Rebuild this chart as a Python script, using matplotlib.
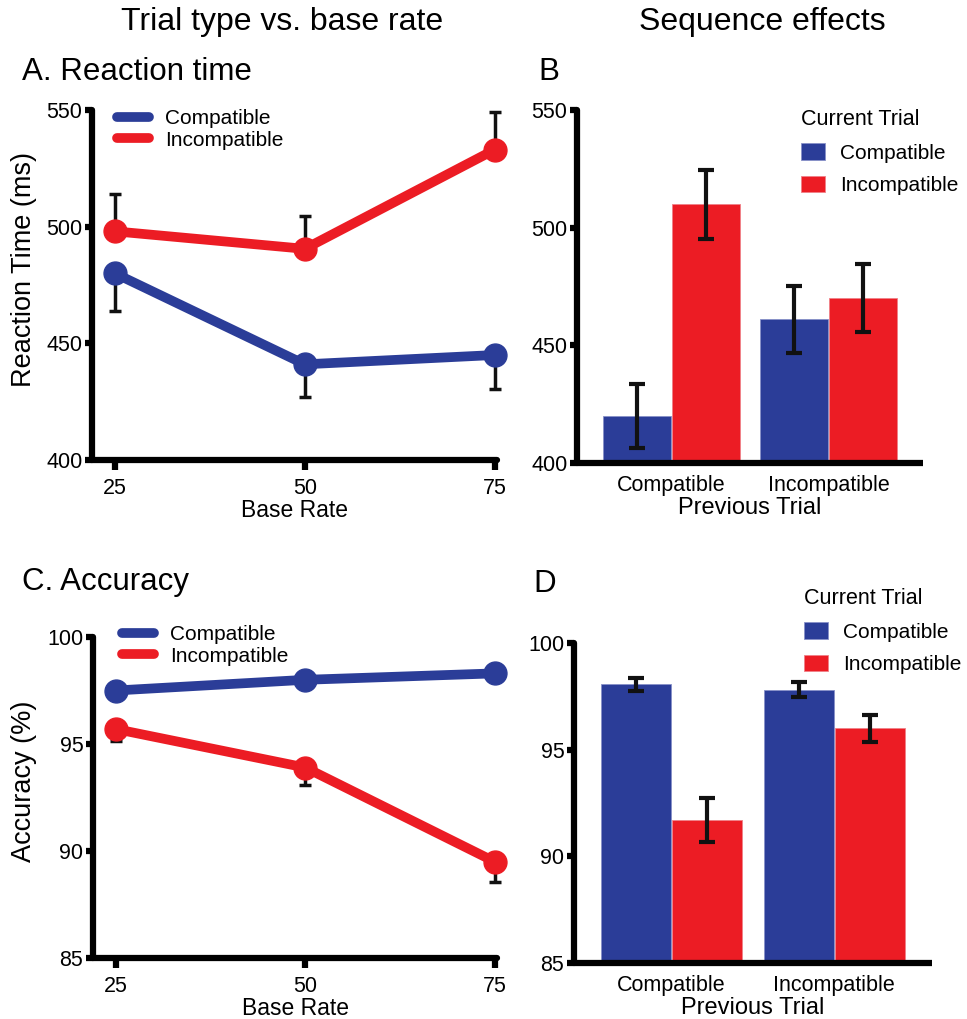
import matplotlib.pyplot as plt
import numpy as np

plt.rcParams['font.family'] = ['Liberation Sans', 'DejaVu Sans']

# data
base_rate = [25, 50, 75]
rt_comp = [480, 441, 445]
rt_comp_err = [16, 14, 14.5]
rt_incomp = [498, 490.5, 533]
rt_incomp_err = [16, 14, 16]

acc_comp = [97.5, 98.0, 98.3]
acc_comp_err = [0.1, 0.1, 0.1]
acc_incomp = [95.7, 93.9, 89.5]
acc_incomp_err = [0.55, 0.83, 0.97]

prev_trial = ['Compatible', 'Incompatible']
seq_rt_comp = [420, 461]
seq_rt_comp_err = [13.6, 14.4]
seq_rt_incomp = [510, 470]
seq_rt_incomp_err = [14.7, 14.4]

seq_acc_comp = [98.07, 97.82]
seq_acc_comp_err = [0.3, 0.33]
seq_acc_incomp = [91.7, 96.0]
seq_acc_incomp_err = [1.03, 0.64]

blue = '#2b3d98'
red = '#ec1c24'

fig = plt.figure(figsize=(9.67, 10.19), dpi=100)
W, H = 967, 1019


def add_ax(left, top, right, bottom):
    return fig.add_axes([left / W, 1 - bottom / H, (right - left) / W, (bottom - top) / H])


def fig_pt(x, y):
    return (x / W, 1 - y / H)


def style(ax):
    for s in ['top', 'right']:
        ax.spines[s].set_visible(False)
    for s in ['left', 'bottom']:
        ax.spines[s].set_linewidth(4.5)
        ax.spines[s].set_capstyle('round')
    ax.tick_params(width=4.5, length=5, labelsize=15.5, pad=2)


def one_side(err, up):
    zeros = [0] * len(err)
    return [zeros, err] if up else [err, zeros]


def line_panel(ax, comp, comp_err, incomp, incomp_err, ylim, yticks, ylabel, comp_up, incomp_up,
               leg_xy, ylab_xy):
    ax.errorbar(base_rate, comp, yerr=one_side(comp_err, comp_up), fmt='none', ecolor='#111111',
                elinewidth=2.5, capsize=4, capthick=2.5, zorder=1, clip_on=False)
    ax.errorbar(base_rate, incomp, yerr=one_side(incomp_err, incomp_up), fmt='none', ecolor='#111111',
                elinewidth=2.5, capsize=4, capthick=2.5, zorder=1, clip_on=False)
    ax.plot(base_rate, comp, '-o', color=blue, lw=7, ms=16.5, label='Compatible', zorder=3, clip_on=False)
    ax.plot(base_rate, incomp, '-o', color=red, lw=7, ms=16.5, label='Incompatible', zorder=3, clip_on=False)
    ax.set_xlim(22, 75.3)
    ax.set_ylim(*ylim)
    ax.set_xticks(base_rate)
    ax.set_yticks(yticks)
    ax.set_xlabel('Base Rate', fontsize=16.5, labelpad=0)
    ax.set_ylabel(ylabel, fontsize=19.5)
    ax.yaxis.set_label_coords(*ylab_xy)
    style(ax)
    ax.tick_params(axis='x', length=7, pad=6)
    leg = ax.legend(frameon=False, loc='upper left', bbox_to_anchor=fig_pt(*leg_xy),
                    bbox_transform=fig.transFigure, borderpad=0, fontsize=15,
                    handlelength=1.5, handletextpad=0.8, labelspacing=0.1, markerscale=0)
    for h in leg.get_lines():
        h.set_linewidth(7)
        h.set_solid_capstyle('round')


def bar_panel(ax, comp, comp_err, incomp, incomp_err, ylim, yticks, leg_xy):
    x = np.arange(len(prev_trial))
    w = 0.43
    ax.bar(x - 0.22, comp, w, color=blue, edgecolor='#8890c8', linewidth=0.6, label='Compatible', zorder=2)
    ax.bar(x + 0.22, incomp, w, color=red, edgecolor='#f08088', linewidth=0.6, label='Incompatible', zorder=2)
    ax.errorbar(x - 0.22, comp, yerr=comp_err, fmt='none', ecolor='#111111',
                elinewidth=3, capsize=6, capthick=3, zorder=3)
    ax.errorbar(x + 0.22, incomp, yerr=incomp_err, fmt='none', ecolor='#111111',
                elinewidth=3, capsize=6, capthick=3, zorder=3)
    ax.set_xlim(-0.6, 1.6)
    ax.set_ylim(*ylim)
    ax.set_xticks(x)
    ax.set_xticklabels(prev_trial)
    ax.set_yticks(yticks)
    ax.set_xlabel('Previous Trial', fontsize=17, labelpad=0)
    style(ax)
    ax.tick_params(axis='x', length=0, pad=9, labelsize=15.5)
    ax.spines['bottom'].set_capstyle('butt')
    leg = ax.legend(frameon=False, loc='upper left', bbox_to_anchor=fig_pt(*leg_xy),
                    bbox_transform=fig.transFigure, borderpad=0, fontsize=15,
                    title='Current Trial', title_fontsize=15.5, handlelength=1.15, handleheight=0.85,
                    handletextpad=0.7, labelspacing=0.62)
    leg._legend_box.align = 'left'


axA = add_ax(92, 110, 497, 460)
line_panel(axA, rt_comp, rt_comp_err, rt_incomp, rt_incomp_err, (400, 550), [400, 450, 500, 550],
           'Reaction Time (ms)', False, True, (107, 99), (-0.136, 0.543))

axC = add_ax(93, 637, 497, 958)
line_panel(axC, acc_comp, acc_comp_err, acc_incomp, acc_incomp_err, (85, 100), [85, 90, 95, 100],
           'Accuracy (%)', True, False, (112, 615), (-0.139, 0.551))

axB = add_ax(577, 110, 923, 463)
bar_panel(axB, seq_rt_comp, seq_rt_comp_err, seq_rt_incomp, seq_rt_incomp_err, (400, 550),
          [400, 450, 500, 550], (791, 99))

axD = add_ax(574, 643, 932, 963)
bar_panel(axD, seq_acc_comp, seq_acc_comp_err, seq_acc_incomp, seq_acc_incomp_err, (85, 100),
          [85, 90, 95, 100], (794, 578))

fig.text(282 / W, 1 - 22 / H, 'Trial type vs. base rate', fontsize=23, ha='center', va='center')
fig.text(762 / W, 1 - 22 / H, 'Sequence effects', fontsize=23, ha='center', va='center')
fig.text(22 / W, 1 - 72 / H, 'A. Reaction time', fontsize=22.5, ha='left', va='center')
fig.text(538 / W, 1 - 72 / H, 'B', fontsize=22.5, ha='left', va='center')
fig.text(22 / W, 1 - 582 / H, 'C. Accuracy', fontsize=22.5, ha='left', va='center')
fig.text(533 / W, 1 - 584 / H, 'D', fontsize=22.5, ha='left', va='center')

fig.savefig('out.png', dpi=100)
